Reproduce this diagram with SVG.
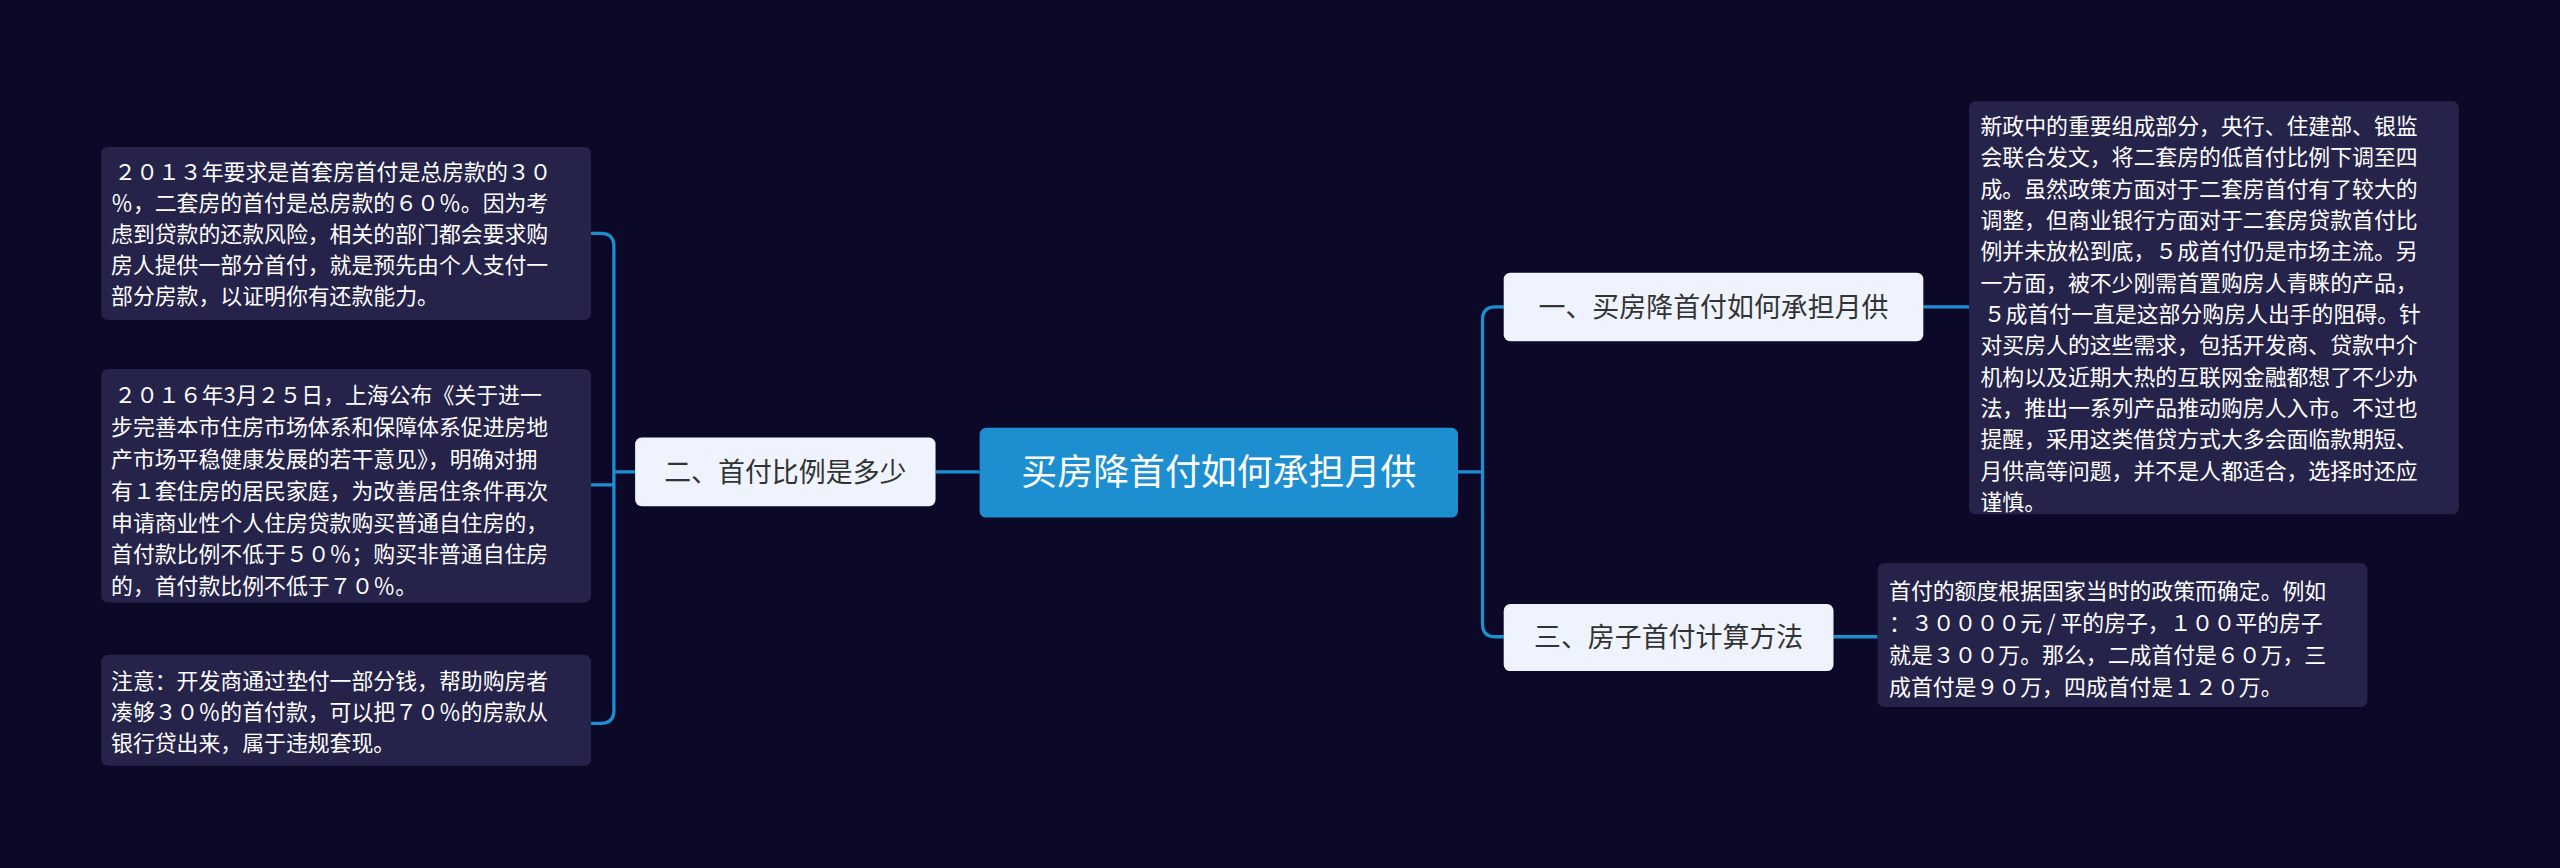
<svg xmlns="http://www.w3.org/2000/svg" width="2560" height="868" viewBox="0 0 2560 868">
<style>
.bg{fill:#0b0828}
.box{fill:#26234a}
.t{font-family:"Noto Sans CJK SC","Liberation Sans",sans-serif;font-size:13.4px;fill:#ffffff}
.node{fill:#eef3fd}
.nt{font-family:"Noto Sans CJK SC","Liberation Sans",sans-serif;font-size:16.5px;fill:#333333}
.ct{font-family:"Noto Sans CJK SC","Liberation Sans",sans-serif;font-size:22px;fill:#ffffff}
.ln{fill:none;stroke:#1d8fd1;stroke-width:2}
</style>
<rect class="bg" width="2560" height="868"/>
<g transform="scale(1.6327)">
<g id="connectors">
<path class="ln" d="M573 289H600"/>
<path class="ln" d="M389 289H376M376 289V151Q376 143 368 143H362M376 289V435Q376 443 368 443H362M376 289V297Q376 297 368 297H362"/>
<path class="ln" d="M893 289H908V196Q908 188 916 188H921M908 289V382Q908 390 916 390H921"/>
<path class="ln" d="M1178 188H1206"/>
<path class="ln" d="M1123 390H1150"/>
</g>
<g id="center"><rect x="600" y="262" width="293" height="55" rx="4" fill="#1d8fd1"/><text class="ct" x="746.5" y="297" text-anchor="middle">买房降首付如何承担月供</text></g>
<g id="node2"><rect class="node" x="389" y="268" width="184" height="42" rx="4"/><text class="nt" x="481" y="295" text-anchor="middle">二、首付比例是多少</text></g>
<g id="node1"><rect class="node" x="921" y="167" width="257" height="42" rx="4"/><text class="nt" x="1049.5" y="194" text-anchor="middle">一、买房降首付如何承担月供</text></g>
<g id="node3"><rect class="node" x="921" y="370" width="202" height="41" rx="4"/><text class="nt" x="1022" y="396" text-anchor="middle">三、房子首付计算方法</text></g>
<g id="box-l1"><rect class="box" x="62" y="90" width="300" height="106" rx="4"/>
<text class="t" x="68"><tspan x="70" y="110">２０１３年要求是首套房首付是总房款的３０</tspan><tspan x="68" y="129">％，二套房的首付是总房款的６０％。因为考</tspan><tspan x="68" y="148">虑到贷款的还款风险，相关的部门都会要求购</tspan><tspan x="68" y="167">房人提供一部分首付，就是预先由个人支付一</tspan><tspan x="68" y="186">部分房款，以证明你有还款能力。</tspan></text></g>
<g id="box-l2"><rect class="box" x="62" y="226" width="300" height="143" rx="4"/>
<text class="t"><tspan x="70" y="247">２０１６年3月２５日，上海公布《关于进一</tspan><tspan x="68" y="266.5">步完善本市住房市场体系和保障体系促进房地</tspan><tspan x="68" y="286">产市场平稳健康发展的若干意见》，明确对拥</tspan><tspan x="68" y="305.5">有１套住房的居民家庭，为改善居住条件再次</tspan><tspan x="68" y="325">申请商业性个人住房贷款购买普通自住房的，</tspan><tspan x="68" y="344.5">首付款比例不低于５０％；购买非普通自住房</tspan><tspan x="68" y="364">的，首付款比例不低于７０％。</tspan></text></g>
<g id="box-l3"><rect class="box" x="62" y="401" width="300" height="68" rx="4"/>
<text class="t"><tspan x="68" y="422">注意：开发商通过垫付一部分钱，帮助购房者</tspan><tspan x="68" y="441">凑够３０％的首付款，可以把７０％的房款从</tspan><tspan x="68" y="460">银行贷出来，属于违规套现。</tspan></text></g>
<g id="box-r1"><rect class="box" x="1206" y="62" width="300" height="253" rx="4"/>
<text class="t"><tspan x="1213" y="82">新政中的重要组成部分，央行、住建部、银监</tspan><tspan x="1213" y="101.2">会联合发文，将二套房的低首付比例下调至四</tspan><tspan x="1213" y="120.4">成。虽然政策方面对于二套房首付有了较大的</tspan><tspan x="1213" y="139.6">调整，但商业银行方面对于二套房贷款首付比</tspan><tspan x="1213" y="158.8">例并未放松到底，５成首付仍是市场主流。另</tspan><tspan x="1213" y="178">一方面，被不少刚需首置购房人青睐的产品，</tspan><tspan x="1215" y="197.2">５成首付一直是这部分购房人出手的阻碍。针</tspan><tspan x="1213" y="216.4">对买房人的这些需求，包括开发商、贷款中介</tspan><tspan x="1213" y="235.6">机构以及近期大热的互联网金融都想了不少办</tspan><tspan x="1213" y="254.8">法，推出一系列产品推动购房人入市。不过也</tspan><tspan x="1213" y="274">提醒，采用这类借贷方式大多会面临款期短、</tspan><tspan x="1213" y="293.2">月供高等问题，并不是人都适合，选择时还应</tspan><tspan x="1213" y="312.4">谨慎。</tspan></text></g>
<g id="box-r3"><rect class="box" x="1150" y="345" width="300" height="88" rx="4"/>
<text class="t"><tspan x="1157" y="367">首付的额度根据国家当时的政策而确定。例如</tspan><tspan x="1157" y="386.5">：３００００元 / 平的房子，１００平的房子</tspan><tspan x="1157" y="406">就是３００万。那么，二成首付是６０万，三</tspan><tspan x="1157" y="425.5">成首付是９０万，四成首付是１２０万。</tspan></text></g>
</g>
</svg>
